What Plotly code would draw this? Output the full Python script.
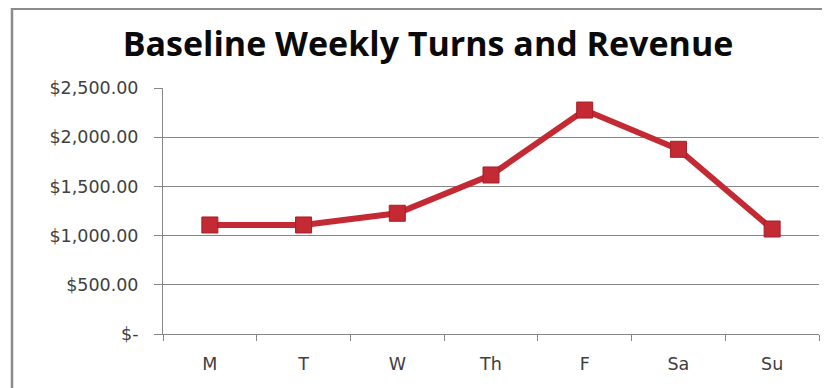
import plotly.graph_objects as go

days = ["M", "T", "W", "Th", "F", "Sa", "Su"]
revenue = [1108, 1108, 1227, 1616, 2276, 1877, 1067]

y_tickvals = [0, 500, 1000, 1500, 2000, 2500]
y_ticktext = ["$-", "$500.00", "$1,000.00", "$1,500.00", "$2,000.00", "$2,500.00"]

fig = go.Figure()
fig.add_trace(go.Scatter(
    x=days, y=revenue, mode="lines+markers",
    line=dict(color="#C42A33", width=6),
    marker=dict(symbol="square", size=16, color="#C42A33",
                line=dict(color="#A51E26", width=1)),
    showlegend=False))

# Chart frame (only top and left edges fall inside the picture)
fig.add_shape(type="path", xref="paper", yref="paper",
              path="M -0.2302,-0.4 L -0.2302,1.322 L 1.1,1.322",
              line=dict(color="#8C8C8C", width=2.5))

fig.update_layout(
    width=822, height=380,
    margin=dict(l=155, r=11, t=80, b=54),
    paper_bgcolor="white", plot_bgcolor="white",
    title=dict(text="<b>Baseline Weekly Turns and Revenue</b>",
               x=0.511, xanchor="center", y=0.905, yanchor="middle",
               font=dict(family="Open Sans", size=34, color="#0a0a0a")),
    font=dict(family="DejaVu Sans", size=17.5, color="#404040"),
    xaxis=dict(range=[-0.5, 6.5], tickson="boundaries", ticks="outside",
               ticklen=6, tickcolor="#868686", showline=True,
               linecolor="#868686", linewidth=1, showgrid=False,
               ticklabelstandoff=14, fixedrange=True),
    yaxis=dict(range=[0, 2500], tickvals=y_tickvals, ticktext=y_ticktext,
               ticks="outside", ticklen=8, tickcolor="#868686",
               showline=True, linecolor="#868686", linewidth=1,
               showgrid=True, gridcolor="#868686", gridwidth=1,
               zeroline=False, ticklabelstandoff=12, fixedrange=True),
)

fig.write_html("out.html")
